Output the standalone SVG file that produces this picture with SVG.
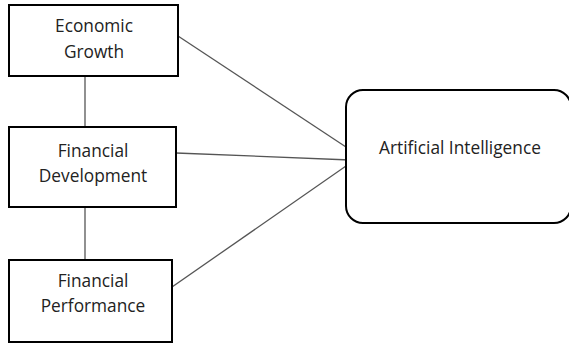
<svg xmlns="http://www.w3.org/2000/svg" width="569" height="343" viewBox="0 0 569 343">
<style>
.box{fill:#fff;stroke:#000;stroke-width:2}
.lbl{font-family:"Open Sans","Noto Sans",sans-serif;font-size:17.3px;fill:#222;text-anchor:middle}
.con{stroke:#555;stroke-width:1.3;fill:none}
</style>
<rect width="569" height="343" fill="#fff"/>
<g id="connectors">
<line class="con" x1="85" y1="76" x2="85" y2="127"/>
<line class="con" x1="85" y1="207" x2="85" y2="260"/>
<line class="con" x1="178" y1="36" x2="346" y2="147"/>
<line class="con" x1="176" y1="153" x2="350" y2="160"/>
<line class="con" x1="172" y1="287" x2="346" y2="166"/>
</g>
<g id="economic-growth">
<rect class="box" x="9" y="5" width="169" height="71"/>
<text class="lbl" x="94" y="32">Economic</text>
<text class="lbl" x="94" y="58">Growth</text>
</g>
<g id="financial-development">
<rect class="box" x="9" y="127" width="167" height="80"/>
<text class="lbl" x="93" y="157">Financial</text>
<text class="lbl" x="93" y="182">Development</text>
</g>
<g id="financial-performance">
<rect class="box" x="9" y="260" width="163" height="82"/>
<text class="lbl" x="93" y="287">Financial</text>
<text class="lbl" x="93" y="312">Performance</text>
</g>
<g id="artificial-intelligence">
<rect class="box" x="346" y="90" width="225" height="133" rx="17" ry="17"/>
<text class="lbl" x="460" y="154">Artificial Intelligence</text>
</g>
</svg>
